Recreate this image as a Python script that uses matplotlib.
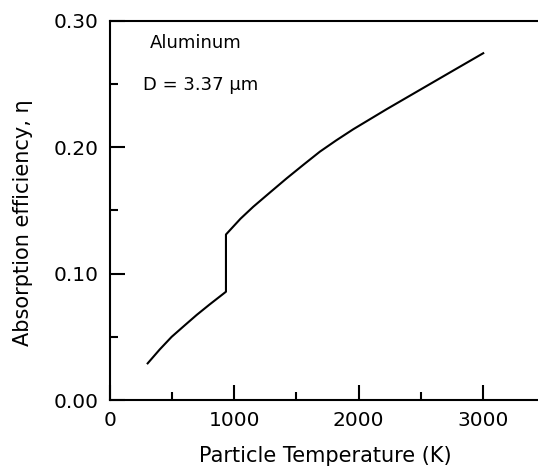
import matplotlib
matplotlib.use("Agg")
import matplotlib.pyplot as plt
from matplotlib.ticker import MultipleLocator, FormatStrFormatter

plt.rcParams['font.family'] = ['DejaVu Sans']

# Data
temp_K = [303, 400, 496, 600, 697, 800, 933, 933, 1050, 1153, 1290, 1422, 1560, 1689, 1820,
          1957, 2226, 2494, 2762, 3003]
eta = [0.029, 0.040, 0.050, 0.059, 0.0673, 0.0755, 0.0857, 0.131, 0.1435, 0.153, 0.1645,
       0.1755, 0.1865, 0.1966, 0.2055, 0.2143, 0.2302, 0.2455, 0.2608, 0.2745]

x_major = [0, 1000, 2000, 3000]
y_major = [0.00, 0.10, 0.20, 0.30]

fig = plt.figure(figsize=(5.38, 4.72), dpi=100)
ax = fig.add_axes([110/538, 72/472, 435/538, 379/472])

ax.plot(temp_K, eta, color='black', lw=1.5)

ax.set_xlim(0, 3500)
ax.set_ylim(0, 0.30)
ax.set_xticks(x_major)
ax.set_yticks(y_major)
ax.xaxis.set_minor_locator(MultipleLocator(500))
ax.yaxis.set_minor_locator(MultipleLocator(0.05))
ax.yaxis.set_major_formatter(FormatStrFormatter('%.2f'))

ax.tick_params(which='both', direction='in', top=False, right=False, width=1.5,
               labelsize=14.5, pad=8)
ax.tick_params(which='major', length=11)
ax.tick_params(which='minor', length=6)
for s in ['left', 'bottom', 'top']:
    ax.spines[s].set_linewidth(1.5)
ax.spines['right'].set_visible(False)

ax.set_xlabel('Particle Temperature (K)', fontsize=15)
ax.set_ylabel('Absorption efficiency, η', fontsize=15)
ax.xaxis.set_label_coords(0.495, -0.121)
ax.yaxis.set_label_coords(-0.177, 0.467)

ax.text(0.092, 0.942, 'Aluminum', transform=ax.transAxes, fontsize=13, va='center', ha='left')
ax.text(0.076, 0.831, 'D = 3.37 μm', transform=ax.transAxes, fontsize=13, va='center', ha='left')

fig.savefig('out.png', dpi=100)
